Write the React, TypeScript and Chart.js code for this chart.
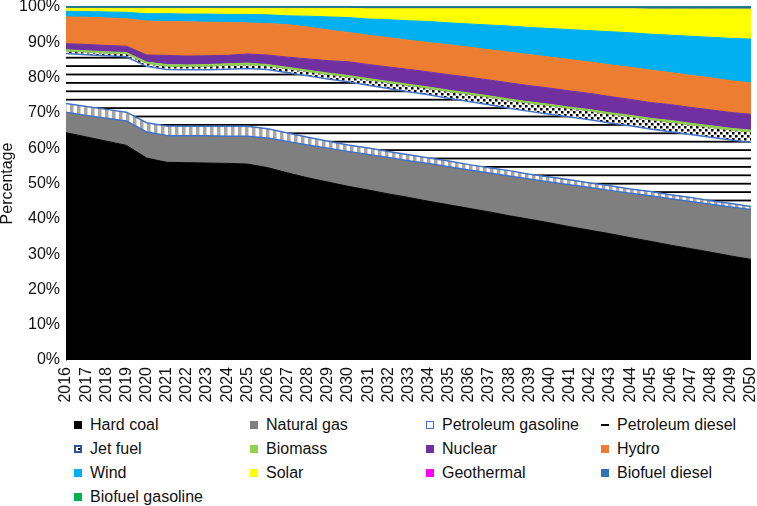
import React, { useEffect, useRef } from 'react';
import { Chart, registerables } from 'chart.js';

Chart.register(...registerables);

const years = [
  '2016', '2017', '2018', '2019', '2020', '2021', '2022', '2023', '2024', '2025', '2026', '2027',
  '2028', '2029', '2030', '2031', '2032', '2033', '2034', '2035', '2036', '2037', '2038', '2039',
  '2040', '2041', '2042', '2043', '2044', '2045', '2046', '2047', '2048', '2049', '2050',
];

const yTickValues = [0, 10, 20, 30, 40, 50, 60, 70, 80, 90, 100];

const hardCoal = [64.4, 63.2, 62.0, 60.8, 57.2, 56.0, 55.9, 55.8, 55.7, 55.5, 54.5, 53.0, 51.6, 50.4, 49.2, 48.2, 47.1, 46.1, 45.0, 44.0, 43.0, 42.0, 40.9, 39.9, 38.9, 37.8, 36.8, 35.8, 34.7, 33.7, 32.6, 31.6, 30.6, 29.5, 28.5];
const naturalGas = [5.8, 6.1, 6.5, 6.9, 7.4, 7.6, 7.6, 7.7, 7.7, 7.9, 8.4, 8.9, 9.3, 9.6, 9.9, 10.1, 10.3, 10.4, 10.7, 10.8, 10.9, 11.0, 11.3, 11.4, 11.6, 11.9, 12.1, 12.3, 12.6, 12.9, 13.2, 13.4, 13.6, 13.9, 14.1];
const petroleumGasoline = [2.5, 2.5, 2.5, 2.5, 2.6, 2.7, 2.7, 2.7, 2.8, 2.8, 2.6, 2.4, 2.2, 2.0, 1.8, 1.8, 1.7, 1.7, 1.6, 1.6, 1.5, 1.5, 1.5, 1.4, 1.4, 1.4, 1.3, 1.3, 1.2, 1.2, 1.1, 1.1, 1.0, 1.0, 0.9];
const petroleumDiesel = [14.1, 14.7, 15.2, 15.7, 16.0, 16.0, 16.0, 16.0, 16.2, 16.4, 16.8, 17.1, 17.4, 17.6, 17.9, 17.8, 17.9, 17.9, 17.9, 17.8, 17.9, 17.9, 17.7, 17.8, 17.8, 17.8, 17.9, 17.8, 17.9, 17.8, 17.9, 17.9, 18.0, 18.0, 18.2];
const jetFuel = [0.7, 0.7, 0.7, 0.8, 0.8, 0.9, 0.9, 1.0, 1.0, 1.0, 1.0, 1.1, 1.2, 1.3, 1.4, 1.5, 1.6, 1.7, 1.8, 1.9, 2.0, 2.1, 2.2, 2.3, 2.4, 2.4, 2.5, 2.5, 2.6, 2.6, 2.7, 2.7, 2.8, 2.8, 2.9];
const biomass = [0.4, 0.4, 0.4, 0.4, 0.4, 0.5, 0.5, 0.5, 0.5, 0.5, 0.4, 0.4, 0.4, 0.4, 0.4, 0.4, 0.4, 0.4, 0.4, 0.4, 0.4, 0.4, 0.4, 0.4, 0.4, 0.4, 0.4, 0.4, 0.4, 0.4, 0.5, 0.5, 0.5, 0.5, 0.5];
const nuclear = [1.7, 1.8, 1.8, 1.8, 2.0, 2.6, 2.5, 2.5, 2.4, 2.6, 2.7, 2.9, 3.2, 3.5, 3.9, 4.0, 4.1, 4.2, 4.3, 4.4, 4.5, 4.5, 4.6, 4.6, 4.6, 4.6, 4.6, 4.6, 4.5, 4.5, 4.5, 4.5, 4.5, 4.5, 4.5];
const hydro = [7.6, 7.7, 7.8, 7.8, 9.6, 9.6, 9.7, 9.5, 9.3, 8.8, 8.9, 9.2, 9.0, 8.7, 8.3, 8.3, 8.3, 8.3, 8.3, 8.5, 8.5, 8.6, 8.7, 8.8, 8.8, 8.9, 8.9, 9.0, 9.1, 9.2, 9.1, 9.1, 9.1, 9.0, 8.9];
const wind = [1.6, 1.6, 1.7, 1.8, 2.1, 2.2, 2.2, 2.3, 2.3, 2.4, 2.5, 2.5, 3.1, 3.7, 4.2, 4.6, 5.1, 5.5, 6.0, 6.2, 6.6, 7.0, 7.4, 7.7, 8.1, 8.5, 8.9, 9.4, 9.8, 10.2, 10.6, 11.1, 11.5, 12.0, 12.4];
const solar = [0.8, 0.9, 1.0, 1.1, 1.5, 1.5, 1.6, 1.6, 1.7, 1.7, 1.8, 2.1, 2.2, 2.4, 2.6, 2.9, 3.1, 3.4, 3.6, 4.0, 4.3, 4.6, 4.9, 5.3, 5.6, 5.9, 6.2, 6.5, 6.8, 7.1, 7.4, 7.7, 8.0, 8.3, 8.5];
const geothermal = [0.05, 0.05, 0.05, 0.05, 0.05, 0.05, 0.05, 0.05, 0.05, 0.05, 0.05, 0.05, 0.05, 0.05, 0.05, 0.05, 0.05, 0.05, 0.05, 0.05, 0.05, 0.05, 0.05, 0.05, 0.05, 0.05, 0.05, 0.05, 0.05, 0.05, 0.05, 0.05, 0.05, 0.05, 0.05];
const biofuelDiesel = [0.3, 0.3, 0.3, 0.3, 0.3, 0.3, 0.3, 0.3, 0.3, 0.3, 0.3, 0.3, 0.3, 0.3, 0.3, 0.4, 0.4, 0.4, 0.4, 0.4, 0.4, 0.4, 0.4, 0.4, 0.4, 0.4, 0.4, 0.4, 0.4, 0.5, 0.5, 0.5, 0.5, 0.5, 0.5];
const biofuelGasoline = [0.05, 0.05, 0.05, 0.05, 0.05, 0.05, 0.05, 0.05, 0.05, 0.05, 0.05, 0.05, 0.05, 0.05, 0.05, 0.05, 0.05, 0.05, 0.05, 0.05, 0.05, 0.05, 0.05, 0.05, 0.05, 0.05, 0.05, 0.05, 0.05, 0.05, 0.05, 0.05, 0.05, 0.05, 0.05];

const seriesLabels = [
  'Hard coal', 'Natural gas', 'Petroleum gasoline', 'Petroleum diesel',
  'Jet fuel', 'Biomass', 'Nuclear', 'Hydro',
  'Wind', 'Solar', 'Geothermal', 'Biofuel diesel',
  'Biofuel gasoline',
];
const seriesValues = [
  hardCoal, naturalGas, petroleumGasoline, petroleumDiesel,
  jetFuel, biomass, nuclear, hydro,
  wind, solar, geothermal, biofuelDiesel,
  biofuelGasoline,
];

// style table (not data)
type Style = { kind: 'solid' | 'gasoline' | 'diesel' | 'jet'; color: string; border: string; bw: number };
const styles: Style[] = [
  { kind: 'solid', color: '#000000', border: '#000000', bw: 1 },
  { kind: 'solid', color: '#7f7f7f', border: '#4472c4', bw: 1.5 },
  { kind: 'gasoline', color: '#ffffff', border: '#4472c4', bw: 1.5 },
  { kind: 'diesel', color: '#ffffff', border: '#4472c4', bw: 1.5 },
  { kind: 'jet', color: '#ffffff', border: '#8fbf5a', bw: 1 },
  { kind: 'solid', color: '#92d050', border: '#92d050', bw: 1 },
  { kind: 'solid', color: '#7030a0', border: '#7030a0', bw: 1 },
  { kind: 'solid', color: '#ed7d31', border: '#ed7d31', bw: 1 },
  { kind: 'solid', color: '#00b0f0', border: '#00b0f0', bw: 1 },
  { kind: 'solid', color: '#ffff00', border: '#ffff00', bw: 1 },
  { kind: 'solid', color: '#ff00ff', border: '#2e75b6', bw: 1 },
  { kind: 'solid', color: '#2e75b6', border: '#1f6f8f', bw: 1.5 },
  { kind: 'solid', color: '#00b050', border: '#1f7a8c', bw: 2 },
];

const FONT = '"Liberation Sans", Arial, Helvetica, sans-serif';

function makePattern(ctx: CanvasRenderingContext2D, kind: string): CanvasPattern | string {
  const c = document.createElement('canvas');
  const g = c.getContext('2d')!;
  if (kind === 'gasoline') {
    c.width = 7; c.height = 7;
    g.fillStyle = '#ffffff'; g.fillRect(0, 0, 7, 7);
    g.fillStyle = '#a6a6a6'; g.fillRect(0, 0, 3.5, 7);
  } else if (kind === 'diesel') {
    c.width = 10; c.height = 42;
    g.fillStyle = '#ffffff'; g.fillRect(0, 0, 10, 42);
    g.fillStyle = '#000000';
    [6.4, 14.8, 23.2, 31.6, 40.0].forEach((y) => g.fillRect(0, y, 10, 1.8));
  } else if (kind === 'jet') {
    c.width = 6; c.height = 6;
    g.fillStyle = '#ffffff'; g.fillRect(0, 0, 6, 6);
    g.fillStyle = '#000000';
    g.fillRect(0, 0, 2.5, 2.5);
    g.fillRect(3, 3, 2.5, 2.5);
  } else {
    return '#ffffff';
  }
  return ctx.createPattern(c, 'repeat')!;
}

const legendCols = [74, 250, 426, 601];
const legendRows = [425, 449, 473, 497];

function LegendMarker({ i }: { i: number }) {
  const s = styles[i];
  const base: React.CSSProperties = { width: 8, height: 8, boxSizing: 'border-box', flex: '0 0 auto' };
  if (s.kind === 'gasoline') {
    return <div style={{ ...base, background: '#fff', border: '1.5px solid #4472c4' }} />;
  }
  if (s.kind === 'diesel') {
    return (
      <div style={{ ...base, position: 'relative' }}>
        <div style={{ position: 'absolute', left: 0, top: 3, width: 8, height: 2, background: '#000' }} />
      </div>
    );
  }
  if (s.kind === 'jet') {
    return (
      <div style={{ ...base, background: '#fff', border: '2px solid #2f5597', position: 'relative' }}>
        <div style={{ position: 'absolute', left: 2, top: 1, width: 2, height: 2, background: '#000' }} />
      </div>
    );
  }
  return <div style={{ ...base, background: s.color }} />;
}

export default function App() {
  const ref = useRef<HTMLCanvasElement>(null);

  useEffect(() => {
    const canvas = ref.current!;
    const ctx = canvas.getContext('2d')!;
    const totals = years.map((_, j) => seriesValues.reduce((s, arr) => s + arr[j], 0));
    const last = seriesLabels.length - 1;
    const datasets = seriesLabels.map((label, i) => {
      const st = styles[i];
      const bg = st.kind === 'solid' ? st.color : makePattern(ctx, st.kind);
      return {
        label,
        data: seriesValues[i].map((v, j) => (v / totals[j]) * 100),
        backgroundColor: bg as any,
        borderColor: st.border,
        borderWidth: st.bw,
        fill: i === 0 ? 'origin' : '-1',
        pointRadius: 0,
        tension: 0,
        clip: i === last ? { left: 0, right: 0, top: 2, bottom: 0 } : 0,
      };
    });

    const chart = new Chart(ctx, {
      type: 'line',
      data: { labels: years, datasets: datasets as any },
      options: {
        animation: false,
        responsive: false,
        maintainAspectRatio: false,
        layout: { padding: { top: 7, right: 6, left: 0, bottom: 0 } },
        plugins: { legend: { display: false }, tooltip: { enabled: false } },
        elements: { point: { radius: 0 }, line: { tension: 0 } },
        scales: {
          x: {
            type: 'category',
            offset: false,
            grid: { display: false, drawTicks: false },
            border: { display: false },
            ticks: {
              autoSkip: false,
              maxRotation: 90,
              minRotation: 90,
              padding: 7,
              color: '#111',
              font: { family: FONT, size: 16 },
            },
            afterFit: (s: any) => {
              s.height = 50;
              s.paddingLeft = 0;
              s.paddingRight = 0;
            },
          },
          y: {
            stacked: true,
            min: 0,
            max: 100,
            afterBuildTicks: (s: any) => {
              s.ticks = yTickValues.map((v) => ({ value: v }));
            },
            grid: { display: false, drawTicks: false },
            border: { display: true, color: '#8c8c8c', width: 1 },
            ticks: {
              padding: 6,
              color: '#111',
              font: { family: FONT, size: 16 },
              callback: (v: any) => `${v}%`,
            },
            title: {
              display: true,
              text: 'Percentage',
              color: '#111',
              font: { family: FONT, size: 16, lineHeight: 1 },
              padding: { top: 0, bottom: 0 },
            },
            afterFit: (s: any) => {
              s.width = 66;
              s.paddingTop = 0;
              s.paddingBottom = 0;
            },
          },
        },
      },
    });
    return () => chart.destroy();
  }, []);

  return (
    <div style={{ position: 'absolute', left: 0, top: 0, width: 757, height: 506, background: '#fff', fontFamily: FONT }}>
      <canvas ref={ref} width={757} height={410} style={{ display: 'block', width: 757, height: 410 }} />
      {seriesLabels.map((label, i) => (
        <div
          key={label}
          style={{
            position: 'absolute',
            left: legendCols[i % 4],
            top: legendRows[Math.floor(i / 4)] - 10,
            height: 20,
            display: 'flex',
            alignItems: 'center',
            whiteSpace: 'nowrap',
            fontSize: 16,
            color: '#111',
          }}
        >
          <LegendMarker i={i} />
          <span style={{ marginLeft: 8 }}>{label}</span>
        </div>
      ))}
    </div>
  );
}
